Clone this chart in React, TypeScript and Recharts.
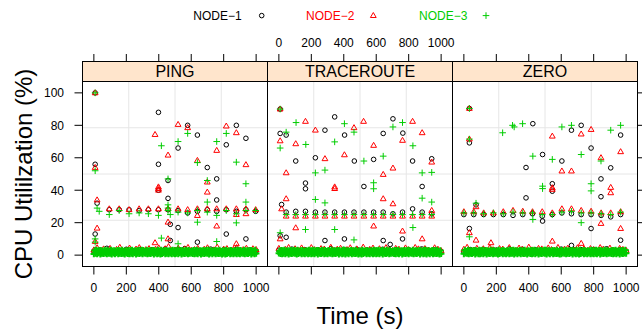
import { ReferenceLine, Scatter, ScatterChart, XAxis, YAxis } from 'recharts';

const W = 642;
const H = 330;

const PANELS = ['PING', 'TRACEROUTE', 'ZERO'];
const NODES = ['NODE−1', 'NODE−2', 'NODE−3'];

const X_DOMAIN: [number, number] = [-70, 1070];
const Y_DOMAIN: [number, number] = [-7, 107];
const X_TICKS = [0, 200, 400, 600, 800, 1000];
const Y_TICKS = [0, 20, 40, 60, 80, 100];
const GRID_X = [215, 500, 785];
const GRID_Y = [21.5, 50, 78.5];

// sample times of the dense low-load band
const BAND_T5 = [
  0, 5, 10, 15, 20, 25, 30, 35, 40, 45, 50, 55, 60, 65, 70, 75, 80, 85, 90, 95,
  100, 105, 110, 115, 120, 125, 130, 135, 140, 145, 150, 155, 160, 165, 170, 175, 180, 185, 190, 195,
  200, 205, 210, 215, 220, 225, 230, 235, 240, 245, 250, 255, 260, 265, 270, 275, 280, 285, 290, 295,
  300, 305, 310, 315, 320, 325, 330, 335, 340, 345, 350, 355, 360, 365, 370, 375, 380, 385, 390, 395,
  400, 405, 410, 415, 420, 425, 430, 435, 440, 445, 450, 455, 460, 465, 470, 475, 480, 485, 490, 495,
  500, 505, 510, 515, 520, 525, 530, 535, 540, 545, 550, 555, 560, 565, 570, 575, 580, 585, 590, 595,
  600, 605, 610, 615, 620, 625, 630, 635, 640, 645, 650, 655, 660, 665, 670, 675, 680, 685, 690, 695,
  700, 705, 710, 715, 720, 725, 730, 735, 740, 745, 750, 755, 760, 765, 770, 775, 780, 785, 790, 795,
  800, 805, 810, 815, 820, 825, 830, 835, 840, 845, 850, 855, 860, 865, 870, 875, 880, 885, 890, 895,
  900, 905, 910, 915, 920, 925, 930, 935, 940, 945, 950, 955, 960, 965, 970, 975, 980, 985, 990, 995, 1000,
];
const BAND_T20 = [
  0, 20, 40, 60, 80, 100, 120, 140, 160, 180, 200, 220, 240, 260, 280, 300, 320, 340, 360, 380,
  400, 420, 440, 460, 480, 500, 520, 540, 560, 580, 600, 620, 640, 660, 680, 700, 720, 740, 760, 780,
  800, 820, 840, 860, 880, 900, 920, 940, 960, 980, 1000,
];
const BAND_T40 = [
  0, 40, 80, 120, 160, 200, 240, 280, 320, 360, 400, 440, 480, 520, 560, 600, 640, 680, 720, 760,
  800, 840, 880, 920, 960, 1000,
];

// PING
const PING_BAND1 = [2.4, 3.1, 4.2, 1.8, 2.9, 3.6, 2.2, 3.4, 1.5, 3.3, 2.7, 3.8, 2.0, 3.4, 4.0, 2.6, 3.0, 1.9, 3.7, 2.3, 3.2, 2.8, 3.5, 2.1, 3.2, 2.5];
const PING_BAND2 = [
  3.2, 4.5, 2.1, 3.8, 2.6, 4.1, 1.9, 3.5, 4.8, 2.4, 3.0, 4.3, 2.2, 3.7, 4.6, 2.8, 3.3, 4.0, 2.0, 3.6,
  4.4, 2.5, 3.9, 5.2, 2.7, 3.1, 4.2, 2.3, 3.8, 4.7, 2.9, 3.4, 4.1, 2.1, 3.6, 4.5, 2.6, 3.2, 4.9, 2.4,
  3.7, 4.0, 2.2, 3.5, 4.6, 2.8, 3.3, 4.2, 2.0, 3.9, 3.4,
];
const PING_BAND3 = [
  0.7, 2.9, 1.1, 3.1, 0.8, 2.6, 1.3, 3.0, 0.6, 2.8, 1.0, 2.5, 0.9, 3.2, 1.2, 2.7, 0.7, 3.0, 1.1, 2.4,
  1.0, 3.1, 0.6, 2.7, 1.2, 2.9, 0.8, 2.5, 1.3, 3.0, 0.7, 2.8, 1.1, 2.6, 0.9, 3.2, 1.0, 2.4, 0.6, 2.9,
  1.2, 2.6, 0.9, 3.0, 0.7, 2.8, 1.1, 3.1, 0.8, 2.5, 1.3, 2.9, 0.6, 2.7, 1.0, 3.0, 0.9, 2.6, 1.2, 3.1,
  0.8, 3.0, 1.2, 2.4, 1.0, 3.2, 0.7, 2.7, 1.1, 2.9, 0.9, 2.6, 1.3, 3.0, 0.6, 2.8, 1.2, 2.5, 0.8, 3.1,
  1.1, 2.7, 0.6, 3.1, 0.9, 2.5, 1.3, 2.8, 0.7, 3.0, 1.0, 2.4, 0.8, 2.9, 1.2, 2.6, 0.7, 3.2, 1.0, 2.8,
  0.7, 2.9, 1.1, 3.1, 0.8, 2.6, 1.3, 3.0, 0.6, 2.8, 1.0, 2.5, 0.9, 3.2, 1.2, 2.7, 0.7, 3.0, 1.1, 2.4,
  1.2, 2.6, 0.9, 3.0, 0.7, 2.8, 1.1, 3.1, 0.8, 2.5, 1.3, 2.9, 0.6, 2.7, 1.0, 3.0, 0.9, 2.6, 1.2, 3.1,
  1.0, 3.1, 0.6, 2.7, 1.2, 2.9, 0.8, 2.5, 1.3, 3.0, 0.7, 2.8, 1.1, 2.6, 0.9, 3.2, 1.0, 2.4, 0.6, 2.9,
  1.1, 2.7, 0.6, 3.1, 0.9, 2.5, 1.3, 2.8, 0.7, 3.0, 1.0, 2.4, 0.8, 2.9, 1.2, 2.6, 0.7, 3.2, 1.0, 2.8,
  0.8, 3.0, 1.2, 2.4, 1.0, 3.2, 0.7, 2.7, 1.1, 2.9, 0.9, 2.6, 1.3, 3.0, 0.6, 2.8, 1.2, 2.5, 0.8, 3.1, 1.0,
];
const PING_N1: [number, number][] = [
  [8, 100], [8, 56], [8, 13], [20, 32], [95, 28], [156, 28], [217, 28], [279, 27.5], [336, 28], [398, 28],
  [457, 28], [519, 27.5], [578, 26], [638, 27], [699, 28], [757, 27], [816, 28], [878, 27], [937, 28], [997, 27],
  [398, 88], [398, 56], [398, 40], [457, 46], [457, 35], [471, 19], [471, 9], [519, 66], [519, 17], [578, 80],
  [638, 74], [638, 8], [699, 54], [757, 47], [757, 34], [816, 68], [816, 13], [878, 80], [937, 72], [937, 10],
];
const PING_N2: [number, number][] = [
  [8, 100], [8, 54], [20, 34], [20, 16.6], [8, 8.4], [95, 28.5], [156, 28.5], [217, 28], [279, 28.5], [336, 28.5],
  [398, 28.5], [457, 28.5], [519, 28.5], [578, 28], [638, 28.5], [638, 24.4], [699, 28.5], [757, 28.5], [816, 28.5],
  [878, 28.5], [878, 25], [937, 28.5], [937, 25.5], [997, 28], [377, 74.3], [377, 7.6], [398, 42], [398, 41], [398, 40],
  [457, 61.6], [457, 20.3], [457, 10], [519, 80.5], [578, 78.5], [638, 58.3], [699, 45], [699, 38.8], [757, 64.5],
  [757, 17.9], [816, 79.5], [878, 75.4], [878, 7], [937, 55.7],
];
const PING_N3: [number, number][] = [
  [8, 100], [8, 52], [8, 10], [8, 8], [20, 29], [33, 27], [95, 25], [156, 27.5], [217, 25.5], [279, 26], [336, 25.5],
  [398, 24.5], [457, 27.5], [471, 25], [519, 26.5], [578, 26], [638, 27.5], [699, 26.5], [757, 24.5], [816, 27.5],
  [878, 25.5], [937, 27.5], [997, 27.5], [416, 67.4], [416, 10.5], [457, 47], [457, 31], [457, 29], [519, 70], [519, 7],
  [578, 75], [638, 57], [638, 20.3], [699, 46], [699, 32.7], [757, 70], [757, 8.4], [816, 75], [878, 57.3], [878, 19.9],
  [937, 44], [937, 32.7],
];

// TRACEROUTE
const TR_BAND1 = [3.0, 2.2, 3.7, 1.9, 3.4, 2.6, 3.3, 2.0, 3.9, 2.8, 3.5, 1.7, 3.6, 2.5, 3.1, 2.9, 3.6, 2.1, 3.3, 2.4, 3.4, 1.8, 3.8, 2.7, 3.2, 2.3];
const TR_BAND2 = [
  4.1, 2.6, 3.5, 4.7, 2.2, 3.9, 2.8, 4.4, 3.1, 2.0, 4.6, 3.3, 2.5, 4.0, 3.7, 2.3, 4.8, 2.9, 3.6, 4.2,
  2.1, 3.4, 4.5, 2.7, 3.8, 2.4, 4.9, 3.0, 3.5, 4.3, 2.6, 3.9, 2.2, 4.6, 3.2, 2.8, 4.1, 3.6, 2.0, 4.4,
  3.3, 2.5, 4.7, 3.8, 2.9, 4.0, 3.1, 2.3, 4.5, 3.6, 2.7,
];
const TR_BAND3 = [
  1.2, 2.6, 0.9, 3.0, 0.7, 2.8, 1.1, 3.1, 0.8, 2.5, 1.3, 2.9, 0.6, 2.7, 1.0, 3.0, 0.9, 2.6, 1.2, 3.1,
  1.1, 2.7, 0.6, 3.1, 0.9, 2.5, 1.3, 2.8, 0.7, 3.0, 1.0, 2.4, 0.8, 2.9, 1.2, 2.6, 0.7, 3.2, 1.0, 2.8,
  0.7, 2.9, 1.1, 3.1, 0.8, 2.6, 1.3, 3.0, 0.6, 2.8, 1.0, 2.5, 0.9, 3.2, 1.2, 2.7, 0.7, 3.0, 1.1, 2.4,
  0.8, 3.0, 1.2, 2.4, 1.0, 3.2, 0.7, 2.7, 1.1, 2.9, 0.9, 2.6, 1.3, 3.0, 0.6, 2.8, 1.2, 2.5, 0.8, 3.1,
  1.0, 3.1, 0.6, 2.7, 1.2, 2.9, 0.8, 2.5, 1.3, 3.0, 0.7, 2.8, 1.1, 2.6, 0.9, 3.2, 1.0, 2.4, 0.6, 2.9,
  1.1, 2.7, 0.6, 3.1, 0.9, 2.5, 1.3, 2.8, 0.7, 3.0, 1.0, 2.4, 0.8, 2.9, 1.2, 2.6, 0.7, 3.2, 1.0, 2.8,
  0.7, 2.9, 1.1, 3.1, 0.8, 2.6, 1.3, 3.0, 0.6, 2.8, 1.0, 2.5, 0.9, 3.2, 1.2, 2.7, 0.7, 3.0, 1.1, 2.4,
  1.2, 2.6, 0.9, 3.0, 0.7, 2.8, 1.1, 3.1, 0.8, 2.5, 1.3, 2.9, 0.6, 2.7, 1.0, 3.0, 0.9, 2.6, 1.2, 3.1,
  0.8, 3.0, 1.2, 2.4, 1.0, 3.2, 0.7, 2.7, 1.1, 2.9, 0.9, 2.6, 1.3, 3.0, 0.6, 2.8, 1.2, 2.5, 0.8, 3.1,
  1.0, 3.1, 0.6, 2.7, 1.2, 2.9, 0.8, 2.5, 1.3, 3.0, 0.7, 2.8, 1.1, 2.6, 0.9, 3.2, 1.0, 2.4, 0.6, 2.9, 0.9,
];
const TR_N1: [number, number][] = [
  [8, 90], [8, 75], [8, 12], [17, 31.2], [45, 26.5], [104, 27], [164, 27], [225, 26.5], [284, 26.5], [344, 26.5],
  [404, 26.5], [463, 26.5], [524, 26.5], [584, 26.5], [643, 26.5], [703, 25.5], [762, 26.5], [824, 28.5], [883, 26.5],
  [942, 25.5], [45, 74], [344, 85.2], [703, 84], [284, 77], [405, 74], [643, 75], [764, 75.2], [104, 58], [225, 60],
  [465, 58], [584, 59], [824, 58], [942, 59.4], [164, 44.4], [164, 40.9], [524, 42.3], [883, 42.3], [45, 11], [284, 9],
  [404, 10], [643, 9], [686, 6.6], [762, 10],
];
const TR_N2: [number, number][] = [
  [8, 90], [17, 28.5], [45, 24], [104, 24], [164, 24], [225, 24], [284, 24], [344, 24], [404, 24], [463, 24], [524, 24],
  [584, 24], [643, 24], [703, 24], [762, 24], [824, 24], [883, 24], [942, 24], [942, 27.5], [164, 82.4], [522, 82.4],
  [824, 82.4], [225, 77], [463, 78.5], [883, 75.4], [8, 70.4], [104, 68.6], [584, 67.6], [762, 70.7], [284, 59.4],
  [404, 61.8], [942, 57.3], [45, 50.7], [643, 49.7], [703, 53.6], [344, 42], [344, 41], [45, 34.7], [643, 34.7],
  [703, 31.6], [104, 16.8], [584, 17.9], [762, 14.8], [8, 10], [883, 10],
];
const TR_N3: [number, number][] = [
  [8, 90], [45, 25], [104, 25], [164, 25], [225, 25], [284, 25], [344, 25], [404, 25], [463, 25], [524, 25], [584, 25],
  [643, 25], [703, 25], [762, 25], [824, 25], [883, 25], [942, 25], [106, 81.7], [404, 81], [762, 81.7], [703, 79],
  [45, 75.8], [463, 75.8], [8, 66], [166, 68.2], [344, 69.8], [826, 67.4], [524, 58], [643, 61], [225, 50.7],
  [284, 52.4], [883, 50.7], [942, 51], [584, 44.6], [584, 40.9], [225, 34.3], [284, 32.2], [883, 35.1], [942, 32.7],
  [164, 15.8], [344, 15.8], [826, 17], [8, 13.8], [463, 9.4],
];

// ZERO
const ZERO_BAND1 = [2.1, 3.4, 2.7, 3.5, 1.9, 3.1, 2.5, 3.8, 2.2, 3.6, 1.8, 3.3, 2.9, 3.0, 2.4, 3.7, 2.0, 3.3, 3.4, 2.6, 3.5, 1.9, 3.9, 2.8, 3.2, 2.4];
const ZERO_BAND2 = [
  3.6, 4.8, 2.4, 3.1, 4.2, 2.7, 3.9, 2.1, 4.5, 3.3, 2.6, 4.0, 3.7, 2.2, 4.6, 3.0, 2.8, 4.3, 3.5, 2.0,
  4.9, 3.2, 2.5, 4.1, 3.8, 2.3, 4.4, 3.4, 2.9, 4.7, 2.1, 3.6, 4.2, 2.6, 3.1, 4.5, 2.4, 3.9, 2.8, 4.0,
  3.3, 2.2, 4.6, 3.7, 2.7, 4.3, 3.0, 2.5, 4.1, 3.5, 2.9,
];
const ZERO_BAND3 = [
  0.8, 3.0, 1.2, 2.4, 1.0, 3.2, 0.7, 2.7, 1.1, 2.9, 0.9, 2.6, 1.3, 3.0, 0.6, 2.8, 1.2, 2.5, 0.8, 3.1,
  0.7, 2.9, 1.1, 3.1, 0.8, 2.6, 1.3, 3.0, 0.6, 2.8, 1.0, 2.5, 0.9, 3.2, 1.2, 2.7, 0.7, 3.0, 1.1, 2.4,
  1.1, 2.7, 0.6, 3.1, 0.9, 2.5, 1.3, 2.8, 0.7, 3.0, 1.0, 2.4, 0.8, 2.9, 1.2, 2.6, 0.7, 3.2, 1.0, 2.8,
  1.0, 3.1, 0.6, 2.7, 1.2, 2.9, 0.8, 2.5, 1.3, 3.0, 0.7, 2.8, 1.1, 2.6, 0.9, 3.2, 1.0, 2.4, 0.6, 2.9,
  1.2, 2.6, 0.9, 3.0, 0.7, 2.8, 1.1, 3.1, 0.8, 2.5, 1.3, 2.9, 0.6, 2.7, 1.0, 3.0, 0.9, 2.6, 1.2, 3.1,
  1.0, 3.1, 0.6, 2.7, 1.2, 2.9, 0.8, 2.5, 1.3, 3.0, 0.7, 2.8, 1.1, 2.6, 0.9, 3.2, 1.0, 2.4, 0.6, 2.9,
  0.8, 3.0, 1.2, 2.4, 1.0, 3.2, 0.7, 2.7, 1.1, 2.9, 0.9, 2.6, 1.3, 3.0, 0.6, 2.8, 1.2, 2.5, 0.8, 3.1,
  1.1, 2.7, 0.6, 3.1, 0.9, 2.5, 1.3, 2.8, 0.7, 3.0, 1.0, 2.4, 0.8, 2.9, 1.2, 2.6, 0.7, 3.2, 1.0, 2.8,
  0.7, 2.9, 1.1, 3.1, 0.8, 2.6, 1.3, 3.0, 0.6, 2.8, 1.0, 2.5, 0.9, 3.2, 1.2, 2.7, 0.7, 3.0, 1.1, 2.4,
  1.2, 2.6, 0.9, 3.0, 0.7, 2.8, 1.1, 3.1, 0.8, 2.5, 1.3, 2.9, 0.6, 2.7, 1.0, 3.0, 0.9, 2.6, 1.2, 3.1, 1.1,
];
const ZERO_N1: [number, number][] = [
  [34, 90.4], [0, 25], [61, 25], [122, 25], [182, 25], [243, 25], [303, 24.5], [363, 25], [423, 25.5], [483, 24],
  [545, 25], [604, 26], [663, 25.5], [723, 25], [784, 25], [846, 24.5], [905, 23.6], [966, 25], [34, 69.2], [425, 81],
  [663, 77], [723, 80], [966, 74], [485, 62], [604, 58], [784, 66], [905, 53.8], [383, 54], [545, 44], [545, 39.4],
  [845, 47], [845, 36], [383, 35.3], [485, 21], [784, 16.4], [34, 16.4], [663, 6], [966, 9.2], [75, 31],
];
const ZERO_N2: [number, number][] = [
  [0, 26.7], [61, 26.7], [122, 26], [182, 26], [243, 26.7], [303, 27.5], [363, 27], [423, 26.7], [483, 26.7],
  [545, 26], [604, 28.5], [663, 28.5], [723, 27.5], [784, 27], [846, 26], [905, 26], [966, 26.7], [34, 90.4],
  [34, 71.5], [545, 73.3], [723, 74.6], [784, 77.4], [604, 51.8], [663, 51.8], [845, 60], [966, 63.7], [545, 41.5],
  [545, 40.5], [905, 41.7], [905, 38.4], [75, 29.8], [845, 19.5], [966, 16.4], [34, 13.8], [75, 9.2], [167, 7.6],
  [545, 8.6], [723, 7.2],
];
const ZERO_N3: [number, number][] = [
  [0, 26], [61, 26], [122, 25.5], [182, 26], [243, 25.5], [303, 26.5], [363, 26], [423, 26], [483, 25], [545, 25],
  [604, 26.5], [663, 27], [723, 26], [784, 26], [846, 25.5], [905, 25], [966, 26.5], [34, 90.4], [34, 71.5], [239, 75.4],
  [300, 80], [310, 79], [362, 81], [604, 79], [663, 80], [905, 77], [966, 80], [425, 61], [545, 59], [723, 62],
  [845, 58], [485, 42.5], [485, 41], [784, 44], [784, 39.6], [75, 32], [425, 22], [723, 20], [34, 11.3],
];

const COLORS = ['#000000', '#FF0000', '#00CD00'];

const PANEL_LEFT = [82.5, 267.5, 452.5];
const PANEL_W = 185;
const STRIP_TOP = 61.5;
const PLOT_TOP = 81.5;
const PLOT_BOTTOM = 266.5;

const toPts = (ts: number[], vs: number[]) => ts.map((t, i) => ({ x: t, y: vs[i] }));
const fromPairs = (ps: [number, number][]) => ps.map(([x, y]) => ({ x, y }));

// per panel: [node1, node2, node3 band, node3 points]
const PANEL_DATA = [
  [
    [...toPts(BAND_T40, PING_BAND1), ...fromPairs(PING_N1)],
    [...toPts(BAND_T20, PING_BAND2), ...fromPairs(PING_N2)],
    toPts(BAND_T5, PING_BAND3),
    fromPairs(PING_N3),
  ],
  [
    [...toPts(BAND_T40, TR_BAND1), ...fromPairs(TR_N1)],
    [...toPts(BAND_T20, TR_BAND2), ...fromPairs(TR_N2)],
    toPts(BAND_T5, TR_BAND3),
    fromPairs(TR_N3),
  ],
  [
    [...toPts(BAND_T40, ZERO_BAND1), ...fromPairs(ZERO_N1)],
    [...toPts(BAND_T20, ZERO_BAND2), ...fromPairs(ZERO_N2)],
    toPts(BAND_T5, ZERO_BAND3),
    fromPairs(ZERO_N3),
  ],
];

const circleShape = (p: any) => (
  <circle cx={p.cx} cy={p.cy} r={2.3} fill="none" stroke={COLORS[0]} strokeWidth={1} />
);
const triangleShape = (p: any) => (
  <polygon
    points={`${p.cx},${p.cy - 3.1} ${p.cx - 2.9},${p.cy + 1.9} ${p.cx + 2.9},${p.cy + 1.9}`}
    fill="none"
    stroke={COLORS[1]}
    strokeWidth={1}
  />
);
const plusShape = (p: any) => (
  <path
    d={`M${p.cx - 3.3},${p.cy}H${p.cx + 3.3}M${p.cx},${p.cy - 3.3}V${p.cy + 3.3}`}
    stroke={COLORS[2]}
    strokeWidth={1}
  />
);
// the 1 s samples overlap into a solid strip; fewer points need a heavier stroke
const bandPlusShape = (p: any) => (
  <path
    d={`M${p.cx - 3.3},${p.cy}H${p.cx + 3.3}M${p.cx},${p.cy - 3.3}V${p.cy + 3.3}`}
    stroke={COLORS[2]}
    strokeWidth={2}
  />
);
const SHAPES = [circleShape, triangleShape, bandPlusShape, plusShape];
const SERIES_NAMES = ['NODE−1', 'NODE−2', 'NODE−3 band', 'NODE−3'];

// bottom axis tick also draws the matching tick above the strip
const xTick = (idx: number) => (p: any) => (
  <g>
    <line x1={p.x} x2={p.x} y1={p.y} y2={p.y + 8} stroke="#000" />
    <line x1={p.x} x2={p.x} y1={STRIP_TOP} y2={STRIP_TOP - 7.5} stroke="#000" />
    {idx !== 1 && (
      <text x={p.x} y={p.y + 25} textAnchor="middle" fontSize={12} fill="#000">
        {p.payload.value}
      </text>
    )}
    {idx === 1 && (
      <text x={p.x} y={STRIP_TOP - 14.5} textAnchor="middle" fontSize={12} fill="#000">
        {p.payload.value}
      </text>
    )}
  </g>
);

// left labels on the first panel, bare ticks on the right of the last one
const yTick = (idx: number) => (p: any) => (
  <g>
    {idx === 0 && <line x1={p.x - 8} x2={p.x} y1={p.y} y2={p.y} stroke="#000" />}
    {idx === 0 && (
      <text x={p.x - 18.5} y={p.y + 4.3} textAnchor="end" fontSize={12} fill="#000">
        {p.payload.value}
      </text>
    )}
    {idx === 2 && <line x1={p.x + PANEL_W} x2={p.x + PANEL_W + 8} y1={p.y} y2={p.y} stroke="#000" />}
  </g>
);

function Panel({ idx }: { idx: number }) {
  const left = PANEL_LEFT[idx];
  const right = W - left - PANEL_W;
  const series = PANEL_DATA[idx];
  return (
    <div style={{ position: 'absolute', left: 0, top: 0 }}>
      <ScatterChart
        width={W}
        height={H}
        margin={{ top: PLOT_TOP, bottom: H - PLOT_BOTTOM - 1, left: left - 1, right }}
      >
        <XAxis
          xAxisId="b"
          orientation="bottom"
          type="number"
          dataKey="x"
          domain={X_DOMAIN}
          ticks={X_TICKS}
          interval={0}
          height={1}
          tickSize={0}
          tickMargin={0}
          axisLine={false}
          tickLine={false}
          tick={xTick(idx)}
        />
        <YAxis
          yAxisId="l"
          orientation="left"
          type="number"
          dataKey="y"
          domain={Y_DOMAIN}
          ticks={Y_TICKS}
          interval={0}
          width={1}
          tickSize={0}
          tickMargin={0}
          axisLine={false}
          tickLine={false}
          tick={yTick(idx)}
        />
        {series.map((data, n) => (
          <Scatter
            key={SERIES_NAMES[n]}
            name={SERIES_NAMES[n]}
            xAxisId="b"
            yAxisId="l"
            data={data}
            shape={SHAPES[n]}
            isAnimationActive={false}
          />
        ))}
        {GRID_X.map((v) => (
          <ReferenceLine key={`gx${v}`} xAxisId="b" yAxisId="l" x={v} stroke="#E6E6E6" />
        ))}
        {GRID_Y.map((v) => (
          <ReferenceLine key={`gy${v}`} xAxisId="b" yAxisId="l" y={v} stroke="#E6E6E6" />
        ))}
      </ScatterChart>
    </div>
  );
}

const LEGEND_SHAPES = [circleShape, triangleShape, plusShape];

export default function App() {
  const legendX = [193.3, 306, 419];
  const symX = [261.7, 373.3, 486];
  return (
    <div
      style={{
        position: 'absolute',
        left: 0,
        top: 0,
        width: W,
        height: H,
        background: '#fff',
        fontFamily: '"Liberation Sans", Arial, Helvetica, sans-serif',
      }}
    >
      {PANELS.map((p, i) => (
        <Panel key={p} idx={i} />
      ))}
      <svg width={W} height={H} style={{ position: 'absolute', left: 0, top: 0, pointerEvents: 'none' }}>
        {NODES.map((name, i) => (
          <g key={name}>
            <text x={legendX[i]} y={19.6} fontSize={12} fill={COLORS[i]}>
              {name}
            </text>
            {LEGEND_SHAPES[i]({ cx: symX[i], cy: 15.6 })}
          </g>
        ))}
        {PANELS.map((name, i) => (
          <g key={name}>
            <rect
              x={PANEL_LEFT[i]}
              y={STRIP_TOP}
              width={PANEL_W}
              height={PLOT_TOP - STRIP_TOP}
              fill="#FFE5CC"
              stroke="#000"
            />
            <text x={PANEL_LEFT[i] + PANEL_W / 2} y={77} textAnchor="middle" fontSize={16} fill="#000">
              {name}
            </text>
            <rect
              x={PANEL_LEFT[i]}
              y={PLOT_TOP}
              width={PANEL_W}
              height={PLOT_BOTTOM - PLOT_TOP}
              fill="none"
              stroke="#000"
            />
          </g>
        ))}
        <text x={360} y={324} textAnchor="middle" fontSize={24} fill="#000">
          Time (s)
        </text>
        <text
          x={31.5}
          y={174}
          textAnchor="middle"
          fontSize={24}
          fill="#000"
          transform="rotate(-90 31.5 174)"
        >
          CPU Utililzation (%)
        </text>
      </svg>
    </div>
  );
}
